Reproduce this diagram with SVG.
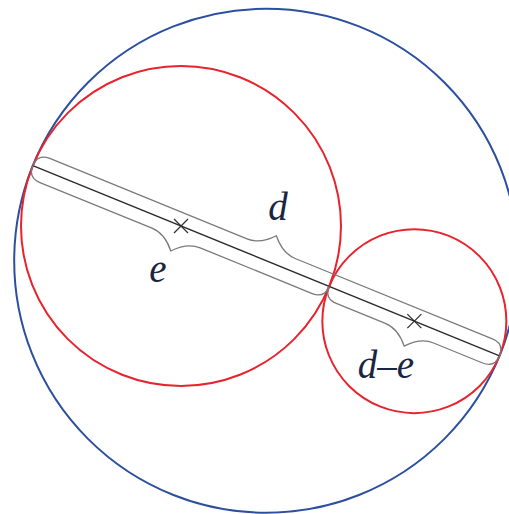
<svg xmlns="http://www.w3.org/2000/svg" width="509" height="514" viewBox="0 0 509 514">
  <style>
    .blue { fill: none; stroke: #2c4f9e; stroke-width: 2; }
    .red { fill: none; stroke: #e8232d; stroke-width: 2; }
    .axis { fill: none; stroke: #2a2a2a; stroke-width: 1.3; }
    .brace { fill: none; stroke: #7a7a7a; stroke-width: 1.3; stroke-linejoin: round; }
    .cross { stroke: #333; stroke-width: 1.3; }
    .lbl { font-family: "Liberation Serif", "Times New Roman", serif; font-style: italic; font-size: 39px; fill: #1b2542; text-anchor: middle; }
  </style>
  <rect width="509" height="514" fill="#ffffff"/>
  <g id="outer-circle">
    <circle class="blue" cx="266.2" cy="260.7" r="252"/>
  </g>
  <g id="circle-large">
    <circle class="red" cx="181" cy="226" r="160"/>
    <path class="cross" d="M174 219 L188 233 M188 219 L174 233"/>
  </g>
  <g id="circle-small">
    <circle class="red" cx="414.35" cy="321.14" r="92"/>
    <path class="cross" d="M407.35 314.14 L421.35 328.14 M421.35 314.14 L407.35 328.14"/>
  </g>
  <g id="connectors">
    <g transform="translate(32.84 165.59) rotate(22.18)">
      <line class="axis" x1="0" y1="0" x2="504" y2="0"/>
      <path id="brace-d" class="brace" d="M0 0 Q0 -13 13 -13 L226 -13 C238 -13 246 -20 252 -27 C258 -20 266 -13 278 -13 L491 -13 Q504 -13 504 0"/>
      <path id="brace-e" class="brace" d="M0 0 Q0 13 13 13 L134 13 C146 13 154 20 160 27 C166 20 174 13 186 13 L307 13 Q320 13 320 0"/>
      <path id="brace-de" class="brace" d="M320 0 Q320 13 333 13 L386 13 C398 13 406 20 412 27 C418 20 426 13 438 13 L491 13 Q504 13 504 0"/>
    </g>
  </g>
  <g id="labels">
    <text class="lbl" x="278" y="220">d</text>
    <text class="lbl" x="158" y="282">e</text>
    <text class="lbl" x="386" y="378">d–e</text>
  </g>
</svg>
